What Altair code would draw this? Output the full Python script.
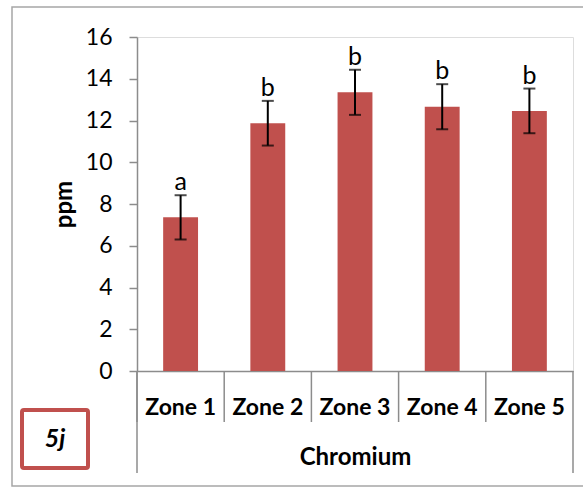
import altair as alt
import pandas as pd

zones = ["Zone 1", "Zone 2", "Zone 3", "Zone 4", "Zone 5"]
means = [7.36, 11.87, 13.35, 12.66, 12.46]
errors = [1.06, 1.07, 1.08, 1.08, 1.07]
letters = ["a", "b", "b", "b", "b"]
y_ticks = [0, 2, 4, 6, 8, 10, 12, 14, 16]
group_label = "Chromium"
y_label = "ppm"
panel_tag = "5j"

df = pd.DataFrame({"zone": zones, "mean": means, "err": errors, "letter": letters})
df["lo"] = df["mean"] - df["err"]
df["hi"] = df["mean"] + df["err"]

FONT = "Lato"
W, H = 436, 334
GRAY = "#8c8c8c"
RED = "#C0504D"

xscale = alt.Scale(domain=zones, paddingInner=0, paddingOuter=0)
yscale = alt.Scale(domain=[0, 16], nice=False)

base = alt.Chart(df)

bars = base.mark_bar(color=RED, width=alt.RelativeBandSize(0.4)).encode(
    x=alt.X("zone:N", scale=xscale, sort=zones,
            axis=alt.Axis(title=group_label, labelAngle=0, ticks=False, tickSize=0,
                          labelPadding=43, labelBaseline="alphabetic",
                          labelFont=FONT, labelFontSize=23, labelFontWeight="bold",
                          labelColor="black", domainColor=GRAY, domainWidth=1.5,
                          titleFont=FONT, titleFontSize=24, titleFontWeight="bold",
                          titleColor="black", titleX=W / 2, titleY=93,
                          titleBaseline="alphabetic", titleAlign="center")),
    y=alt.Y("mean:Q", scale=yscale,
            axis=alt.Axis(title=y_label, values=y_ticks, grid=False, tickSize=8,
                          tickColor=GRAY, tickWidth=1.5, domainColor=GRAY, domainWidth=1.5,
                          labelPadding=17, labelFont=FONT, labelFontSize=23,
                          labelColor="black",
                          titleFont=FONT, titleFontSize=24, titleFontWeight="bold",
                          titleColor="black", titleAngle=270, titleX=-73, titleY=H / 2,
                          titleBaseline="middle", titleAlign="center")),
)

err_rule = base.mark_rule(color="black", strokeWidth=2).encode(
    x=alt.X("zone:N", sort=zones), y="lo:Q", y2="hi:Q")
caps_hi = base.mark_tick(color="black", thickness=2, size=12, orient="horizontal").encode(
    x=alt.X("zone:N", sort=zones), y="hi:Q")
caps_lo = base.mark_tick(color="black", thickness=2, size=12, orient="horizontal").encode(
    x=alt.X("zone:N", sort=zones), y="lo:Q")
labels = base.mark_text(font=FONT, fontSize=25, color="black", baseline="alphabetic",
                        dy=-5).encode(
    x=alt.X("zone:N", sort=zones), y="hi:Q", text="letter:N")

sep = base.mark_rule(color=GRAY, strokeWidth=1.5).encode(
    x=alt.X("zone:N", sort=zones, bandPosition=0),
    y=alt.value(H), y2=alt.value(H + 51))
left_edge = base.transform_filter(alt.datum.zone == zones[0]).mark_rule(
    color=GRAY, strokeWidth=1.5).encode(
    x=alt.X("zone:N", sort=zones, bandPosition=0),
    y=alt.value(H), y2=alt.value(H + 102))
right_edge = base.transform_filter(alt.datum.zone == zones[-1]).mark_rule(
    color=GRAY, strokeWidth=1.5).encode(
    x=alt.X("zone:N", sort=zones, bandPosition=1),
    y=alt.value(H), y2=alt.value(H + 102))

one = alt.Data(values=[{"tag": panel_tag}])
frame = alt.Chart(one).mark_rect(fill=None, stroke="#a6a6a6", strokeWidth=1.5).encode(
    x=alt.value(-125), x2=alt.value(452), y=alt.value(-30), y2=alt.value(449))
tag_box = alt.Chart(one).mark_rect(fill="white", stroke=RED, strokeWidth=4,
                                   cornerRadius=2).encode(
    x=alt.value(-115), x2=alt.value(-49), y=alt.value(373), y2=alt.value(431))
tag_text = alt.Chart(one).mark_text(font=FONT, fontSize=25, fontWeight="bold",
                                    fontStyle="italic", color="black",
                                    baseline="middle", align="center").encode(
    x=alt.value(-82), y=alt.value(402), text="tag:N")

chart = alt.layer(frame, bars, err_rule, caps_hi, caps_lo, labels, sep, left_edge,
                  right_edge, tag_box, tag_text).properties(
    width=W, height=H,
    autosize=alt.AutoSizeParams(type="none"),
    padding={"left": 137, "top": 37, "right": 10, "bottom": 116},
).configure_view(stroke=None).configure(background="white")

chart.save("out.html", embed_options={"renderer": "svg", "actions": False})
